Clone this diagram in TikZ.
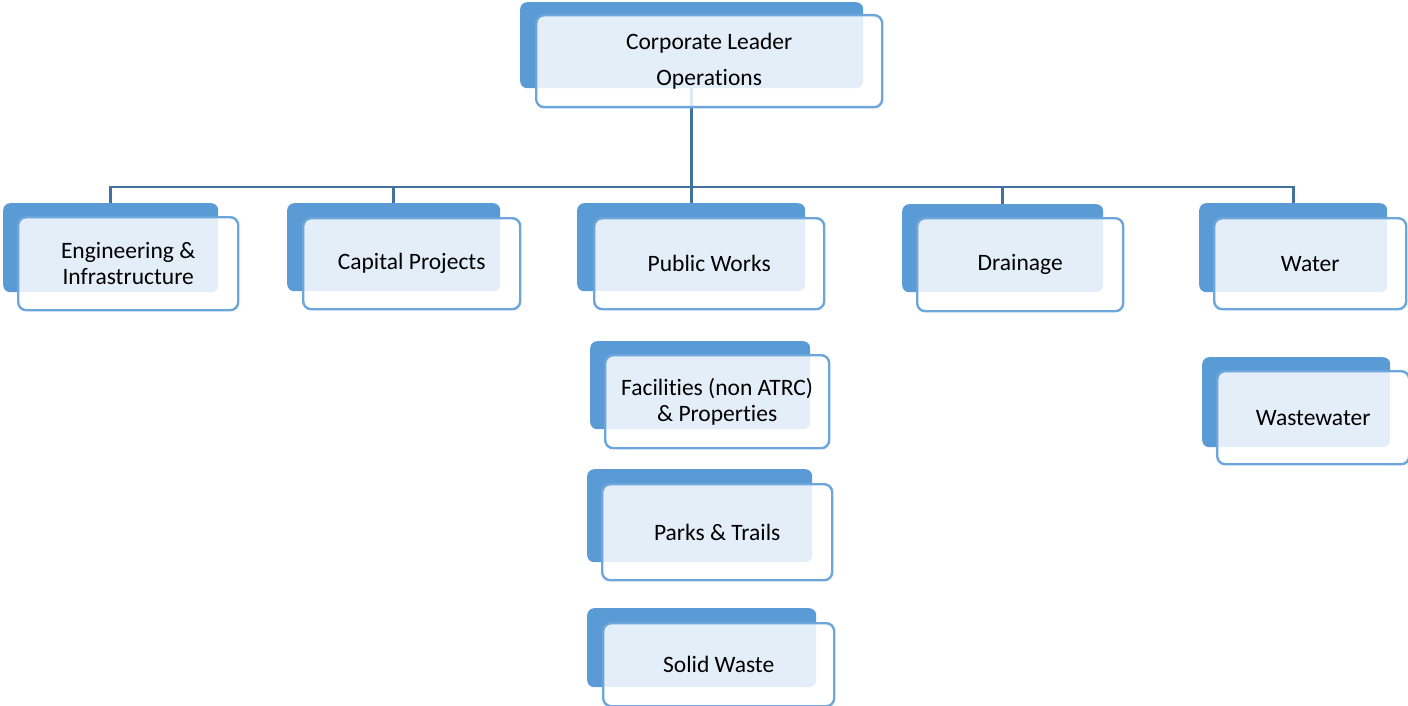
\documentclass[tikz,border=0pt]{standalone}
\usepackage{fontspec}
\setmainfont{Carlito}[Ligatures=NoCommon]
\usepackage{tikz}
\usetikzlibrary{positioning,calc,backgrounds}
\definecolor{orgblue}{HTML}{5B9BD5}
\definecolor{orgedge}{HTML}{6CA6DA}
\definecolor{orglink}{HTML}{41719C}
\tikzset{
  orgback/.style={fill=orgblue, rounded corners=7pt, inner sep=0pt, anchor=north west},
  orgfront/.style={draw=orgedge, line width=2.4pt, fill=white, fill opacity=0.84, text opacity=1, rounded corners=8pt, align=center, inner sep=0pt, anchor=north west, font=\fontsize{23.5}{26}\selectfont},
  orgline/.style={draw=orglink, line width=2.6pt}
}

\begin{document}
\begin{tikzpicture}[x=1pt, y=-1pt]
  \useasboundingbox (0,0) rectangle (1408,706);

  % head of the unit
  \node[orgback, minimum width=343pt, minimum height=86pt] (lead) at (520,2) {};
  \node[orgfront, minimum width=346pt, minimum height=92pt] (leadtxt) at (535,14) {Corporate Leader\\[10pt]Operations};

  % first row
  \node[orgback, minimum width=215pt, minimum height=89pt] (eng) at (3,203) {};
  \node[orgfront, minimum width=220pt, minimum height=93pt] (engtxt) at (17,216) {Engineering \&\\Infrastructure};

  \node[orgback, minimum width=213pt, minimum height=88pt] (cap) at (287,203) {};
  \node[orgfront, minimum width=217pt, minimum height=91pt] (captxt) at (302,217) {Capital Projects};

  \node[orgback, minimum width=228pt, minimum height=88pt] (pw) at (577,203) {};
  \node[orgfront, minimum width=230pt, minimum height=91pt] (pwtxt) at (593,217) {Public Works};

  \node[orgback, minimum width=201pt, minimum height=88pt] (drain) at (902,204) {};
  \node[orgfront, minimum width=206pt, minimum height=93pt] (draintxt) at (916,217) {Drainage};

  \node[orgback, minimum width=188pt, minimum height=89pt] (water) at (1199,203) {};
  \node[orgfront, minimum width=192pt, minimum height=91pt] (watertxt) at (1213,217) {Water};

  % under public works
  \node[orgback, minimum width=220pt, minimum height=88pt] (fac) at (590,341) {};
  \node[orgfront, minimum width=224pt, minimum height=93pt] (factxt) at (604,354) {Facilities (non ATRC)\\\& Properties};

  \node[orgback, minimum width=225pt, minimum height=93pt] (parks) at (587,469) {};
  \node[orgfront, minimum width=230pt, minimum height=96pt] (parkstxt) at (601,483) {Parks \& Trails};

  \node[orgback, minimum width=229pt, minimum height=79pt] (solid) at (587,608) {};
  \node[orgfront, minimum width=231pt, minimum height=83pt] (solidtxt) at (602,622) {Solid Waste};

  % under water
  \node[orgback, minimum width=188pt, minimum height=90pt] (waste) at (1202,357) {};
  \node[orgfront, minimum width=192pt, minimum height=93pt] (wastetxt) at (1216,370) {Wastewater};

  % connectors
  \coordinate (bus) at (0,187);
  \begin{scope}[on background layer]
    \draw[orgline] (lead.south) -- (lead.south |- bus);
    \draw[orgline] (eng.north) -- (eng.north |- bus) -- (water.north |- bus) -- (water.north);
    \foreach \u in {cap,pw,drain}
      \draw[orgline] (\u.north) -- (\u.north |- bus);
  \end{scope}
\end{tikzpicture}
\end{document}
